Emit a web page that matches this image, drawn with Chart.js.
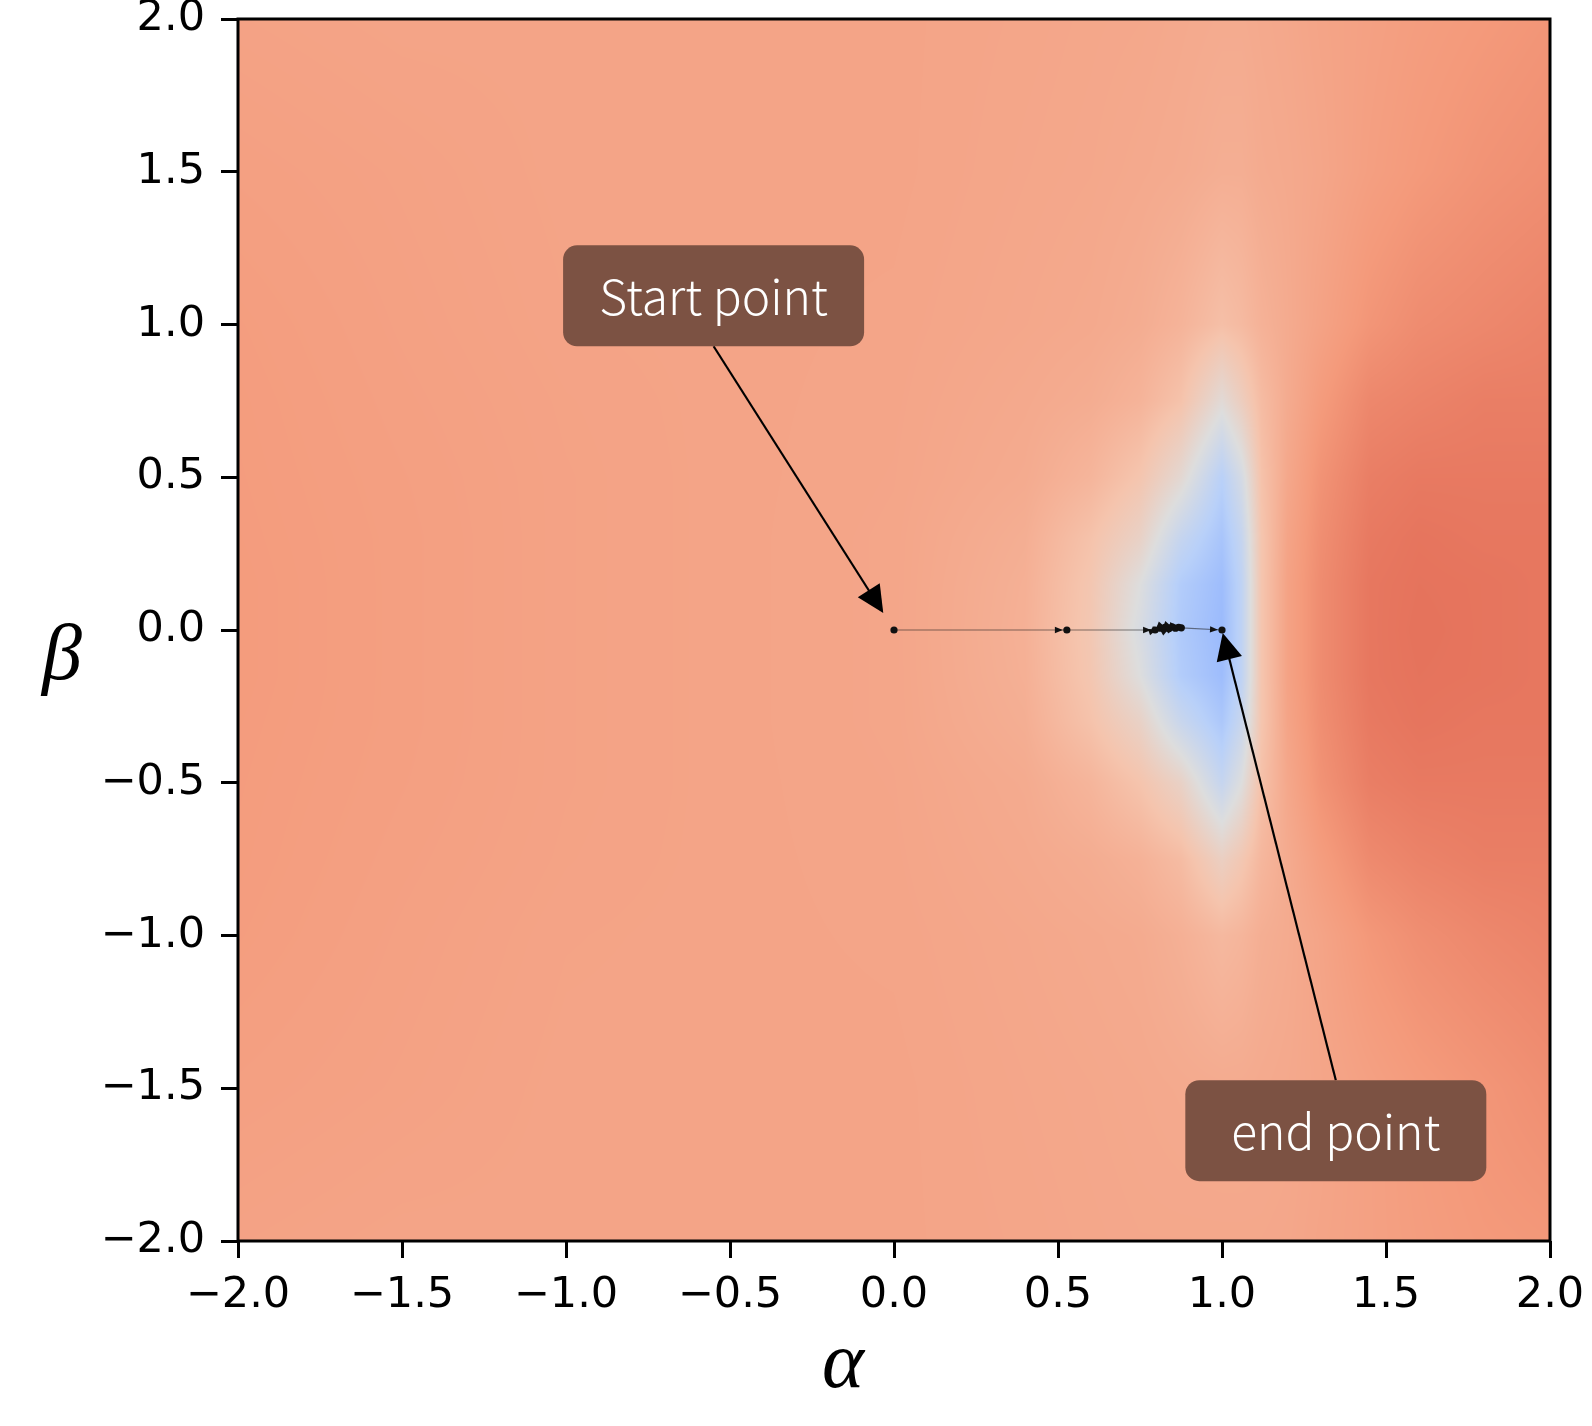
<!DOCTYPE html>
<html>
<head>
<meta charset="utf-8">
<script src="https://cdn.jsdelivr.net/npm/chart.js@4.4.1/dist/chart.umd.min.js"></script>
<style>
  html, body { margin: 0; padding: 0; background: #fff; }
  canvas { display: block; }
</style>
</head>
<body>
<canvas id="landscape" width="1592" height="1426"></canvas>
<script>
// grid of the loss surface (alpha = columns, beta = rows from top to bottom)
const alphaGrid = [-2, -1.5, -1, -0.5, 0, 0.4, 0.6, 0.75, 0.875, 1.0, 1.06, 1.12, 1.2, 1.3, 1.45, 1.6, 1.8, 2.0];
const betaGrid = [2, 1.5, 1, 0.75, 0.5, 0.3, 0.15, 0, -0.15, -0.3, -0.5, -0.75, -1, -1.5, -2];
// loss, normalised to the colour range (0 = blue end, 1 = red end)
const lossGrid = [
  [0.725, 0.72, 0.72, 0.72, 0.72, 0.715, 0.712, 0.71, 0.705, 0.70, 0.70, 0.705, 0.71, 0.72, 0.73, 0.74, 0.75, 0.76],
  [0.733, 0.727, 0.72, 0.72, 0.72, 0.713, 0.71, 0.705, 0.70, 0.69, 0.69, 0.70, 0.705, 0.715, 0.735, 0.75, 0.765, 0.775],
  [0.74, 0.73, 0.722, 0.72, 0.718, 0.71, 0.705, 0.695, 0.675, 0.64, 0.655, 0.68, 0.70, 0.725, 0.76, 0.78, 0.79, 0.80],
  [0.742, 0.732, 0.724, 0.72, 0.717, 0.705, 0.695, 0.675, 0.63, 0.52, 0.58, 0.65, 0.70, 0.745, 0.79, 0.80, 0.81, 0.81],
  [0.743, 0.734, 0.725, 0.72, 0.716, 0.70, 0.67, 0.62, 0.53, 0.38, 0.47, 0.63, 0.71, 0.765, 0.81, 0.82, 0.82, 0.82],
  [0.744, 0.735, 0.725, 0.72, 0.715, 0.69, 0.63, 0.56, 0.42, 0.33, 0.42, 0.62, 0.72, 0.775, 0.82, 0.83, 0.825, 0.825],
  [0.745, 0.735, 0.725, 0.72, 0.715, 0.685, 0.615, 0.50, 0.36, 0.30, 0.40, 0.62, 0.725, 0.78, 0.825, 0.833, 0.83, 0.825],
  [0.745, 0.735, 0.725, 0.72, 0.715, 0.683, 0.61, 0.48, 0.35, 0.29, 0.40, 0.62, 0.725, 0.78, 0.825, 0.835, 0.83, 0.825],
  [0.745, 0.735, 0.725, 0.72, 0.715, 0.685, 0.615, 0.50, 0.36, 0.30, 0.40, 0.62, 0.725, 0.78, 0.825, 0.833, 0.83, 0.825],
  [0.744, 0.735, 0.725, 0.72, 0.715, 0.69, 0.63, 0.56, 0.43, 0.34, 0.43, 0.62, 0.72, 0.775, 0.82, 0.83, 0.825, 0.825],
  [0.743, 0.734, 0.725, 0.72, 0.716, 0.70, 0.67, 0.625, 0.56, 0.42, 0.50, 0.635, 0.71, 0.765, 0.81, 0.82, 0.82, 0.82],
  [0.742, 0.732, 0.724, 0.72, 0.717, 0.705, 0.695, 0.68, 0.65, 0.57, 0.61, 0.665, 0.70, 0.74, 0.785, 0.80, 0.81, 0.81],
  [0.74, 0.73, 0.722, 0.72, 0.718, 0.71, 0.705, 0.70, 0.685, 0.66, 0.67, 0.69, 0.70, 0.72, 0.755, 0.775, 0.79, 0.80],
  [0.733, 0.727, 0.72, 0.72, 0.72, 0.713, 0.71, 0.707, 0.703, 0.70, 0.70, 0.703, 0.707, 0.715, 0.73, 0.745, 0.76, 0.775],
  [0.725, 0.72, 0.72, 0.72, 0.72, 0.715, 0.712, 0.71, 0.71, 0.71, 0.71, 0.71, 0.712, 0.72, 0.73, 0.74, 0.75, 0.755]
];

// optimisation path
const pathAlpha = [0.0, 0.527, 0.796, 0.812, 0.826, 0.838, 0.848, 0.858, 0.868, 0.876, 1.0];
const pathBeta = [0, 0, 0, 0.006, 0.009, 0.004, 0.01, 0.006, 0.009, 0.007, 0];

// axis ticks
const alphaTicks = [-2, -1.5, -1, -0.5, 0, 0.5, 1, 1.5, 2];
const betaTicks = [-2, -1.5, -1, -0.5, 0, 0.5, 1, 1.5, 2];

// annotations
const notes = [
  { text: "Start point", xy: [0, 0], textAt: [-0.55, 1.094], shrink: 20, side: "bottom" },
  { text: "end point", xy: [1, 0], textAt: [1.347, -1.639], shrink: 3, side: "top" }
];

// coolwarm colour stops
const cmap = [
  [0.000, 59, 76, 192], [0.125, 98, 130, 234], [0.250, 141, 176, 254],
  [0.375, 184, 208, 249], [0.500, 221, 221, 221], [0.625, 245, 196, 173],
  [0.750, 244, 154, 123], [0.875, 222, 96, 77], [1.000, 180, 4, 38]
];

function colorAt(v) {
  v = Math.max(0, Math.min(1, v));
  for (let i = 0; i < cmap.length - 1; i++) {
    const a = cmap[i], b = cmap[i + 1];
    if (v <= b[0]) {
      const t = (v - a[0]) / (b[0] - a[0]);
      return [a[1] + (b[1] - a[1]) * t, a[2] + (b[2] - a[2]) * t, a[3] + (b[3] - a[3]) * t];
    }
  }
  const l = cmap[cmap.length - 1];
  return [l[1], l[2], l[3]];
}

// find cell index + fraction in a monotone list
function locate(arr, v) {
  for (let i = 0; i < arr.length - 1; i++) {
    const lo = arr[i], hi = arr[i + 1];
    if ((v >= Math.min(lo, hi)) && (v <= Math.max(lo, hi))) {
      return [i, (v - lo) / (hi - lo)];
    }
  }
  return (Math.abs(v - arr[0]) < Math.abs(v - arr[arr.length - 1])) ? [0, 0] : [arr.length - 2, 1];
}

const fmt = (v) => (v < 0 ? "\u2212" : "") + Math.abs(v).toFixed(1);

// heat map drawn under the path, smooth shading between grid nodes
const heatmapPlugin = {
  id: "heatmap",
  beforeDatasetsDraw(chart) {
    const { ctx, chartArea, scales } = chart;
    const x0 = Math.round(chartArea.left), y0 = Math.round(chartArea.top);
    const w = Math.round(chartArea.right) - x0, h = Math.round(chartArea.bottom) - y0;
    const img = ctx.createImageData(w, h);
    const ci = [], ct = [];
    for (let px = 0; px < w; px++) {
      const r = locate(alphaGrid, scales.x.getValueForPixel(x0 + px + 0.5));
      ci.push(r[0]); ct.push(r[1]);
    }
    for (let py = 0; py < h; py++) {
      const [j, u] = locate(betaGrid, scales.y.getValueForPixel(y0 + py + 0.5));
      const r0 = lossGrid[j], r1 = lossGrid[j + 1];
      for (let px = 0; px < w; px++) {
        const i = ci[px], t = ct[px];
        const top = r0[i] + (r0[i + 1] - r0[i]) * t;
        const bot = r1[i] + (r1[i + 1] - r1[i]) * t;
        const c = colorAt(top + (bot - top) * u);
        const k = (py * w + px) * 4;
        img.data[k] = c[0]; img.data[k + 1] = c[1]; img.data[k + 2] = c[2]; img.data[k + 3] = 255;
      }
    }
    ctx.putImageData(img, x0, y0);
  }
};

function arrowHead(ctx, tx, ty, ux, uy, len, half) {
  const bx = tx - ux * len, by = ty - uy * len;
  ctx.beginPath();
  ctx.moveTo(tx, ty);
  ctx.lineTo(bx - uy * half, by + ux * half);
  ctx.lineTo(bx + uy * half, by - ux * half);
  ctx.closePath();
  ctx.fill();
}

// small heads on the path segments
const pathArrowPlugin = {
  id: "pathArrows",
  afterDatasetsDraw(chart) {
    const { ctx, scales } = chart;
    ctx.save();
    ctx.fillStyle = "#111";
    for (let i = 0; i < pathAlpha.length - 1; i++) {
      const ax = scales.x.getPixelForValue(pathAlpha[i]), ay = scales.y.getPixelForValue(pathBeta[i]);
      const bx = scales.x.getPixelForValue(pathAlpha[i + 1]), by = scales.y.getPixelForValue(pathBeta[i + 1]);
      const d = Math.hypot(bx - ax, by - ay);
      if (d < 1) continue;
      const ux = (bx - ax) / d, uy = (by - ay) / d;
      arrowHead(ctx, bx - ux * 4, by - uy * 4, ux, uy, 8, 3.2);
    }
    ctx.restore();
  }
};

function roundRect(ctx, x, y, w, h, r) {
  ctx.beginPath();
  ctx.moveTo(x + r, y);
  ctx.arcTo(x + w, y, x + w, y + h, r);
  ctx.arcTo(x + w, y + h, x, y + h, r);
  ctx.arcTo(x, y + h, x, y, r);
  ctx.arcTo(x, y, x + w, y, r);
  ctx.closePath();
}

// frame, annotations and axis labels
const overlayPlugin = {
  id: "overlay",
  afterDraw(chart) {
    const { ctx, chartArea: a, scales } = chart;
    ctx.save();
    ctx.strokeStyle = "#000";
    ctx.lineWidth = 3;
    ctx.strokeRect(a.left, a.top, a.right - a.left, a.bottom - a.top);

    notes.forEach(n => {
      const cx = scales.x.getPixelForValue(n.textAt[0]), cy = scales.y.getPixelForValue(n.textAt[1]);
      const px = scales.x.getPixelForValue(n.xy[0]), py = scales.y.getPixelForValue(n.xy[1]);
      const bw = 301, bh = 101;
      const sx = cx, sy = n.side === "bottom" ? cy + bh / 2 : cy - bh / 2;
      const d = Math.hypot(px - sx, py - sy);
      const ux = (px - sx) / d, uy = (py - sy) / d;
      const tx = px - ux * n.shrink, ty = py - uy * n.shrink;
      ctx.strokeStyle = "#000";
      ctx.fillStyle = "#000";
      ctx.lineWidth = 2.2;
      ctx.beginPath();
      ctx.moveTo(sx, sy);
      ctx.lineTo(tx - ux * 20, ty - uy * 20);
      ctx.stroke();
      arrowHead(ctx, tx, ty, ux, uy, 27, 13);

      ctx.fillStyle = "#7c5243";
      roundRect(ctx, cx - bw / 2, cy - bh / 2, bw, bh, 14);
      ctx.fill();
      ctx.fillStyle = "#fff";
      ctx.font = "300 48px 'Noto Sans CJK SC', 'Noto Sans'";
      ctx.textAlign = "center";
      ctx.textBaseline = "middle";
      ctx.fillText(n.text, cx, cy + 1);
    });

    ctx.fillStyle = "#000";
    ctx.font = "italic 80px 'Liberation Serif'";
    ctx.textAlign = "center";
    ctx.textBaseline = "middle";
    ctx.fillText("\u03b1", 843, 1366);
    ctx.fillText("\u03b2", 62, 658);
    ctx.restore();
  }
};

const tickStyle = {
  color: "#000",
  font: { family: "DejaVu Sans", size: 43 },
  maxRotation: 0,
  autoSkip: false,
  callback: fmt
};

new Chart(document.getElementById("landscape"), {
  type: "scatter",
  data: {
    datasets: [{
      data: pathAlpha.map((v, i) => ({ x: v, y: pathBeta[i] })),
      showLine: true,
      borderColor: "rgba(30,30,30,0.55)",
      borderWidth: 1.2,
      pointRadius: 3.6,
      pointBackgroundColor: "#111",
      pointBorderWidth: 0
    }]
  },
  options: {
    responsive: false,
    animation: false,
    devicePixelRatio: 1,
    layout: { padding: { left: 0, right: 42, top: 19, bottom: 0 } },
    plugins: { legend: { display: false }, tooltip: { enabled: false } },
    scales: {
      x: {
        type: "linear", min: -2, max: 2, position: "bottom",
        afterBuildTicks(s) { s.ticks = alphaTicks.map(v => ({ value: v })); },
        afterFit(s) { s.height = 185; s.paddingLeft = 0; s.paddingRight = 0; },
        grid: { drawOnChartArea: false, drawTicks: true, tickLength: 17, tickWidth: 3, tickColor: "#000" },
        border: { display: false },
        ticks: Object.assign({ padding: 12 }, tickStyle)
      },
      y: {
        type: "linear", min: -2, max: 2, position: "left",
        afterBuildTicks(s) { s.ticks = betaTicks.map(v => ({ value: v })); },
        afterFit(s) { s.width = 238; s.paddingTop = 0; s.paddingBottom = 0; },
        grid: { drawOnChartArea: false, drawTicks: true, tickLength: 17, tickWidth: 3, tickColor: "#000" },
        border: { display: false },
        ticks: Object.assign({ padding: 16 }, tickStyle)
      }
    }
  },
  plugins: [heatmapPlugin, pathArrowPlugin, overlayPlugin]
});
</script>
</body>
</html>
